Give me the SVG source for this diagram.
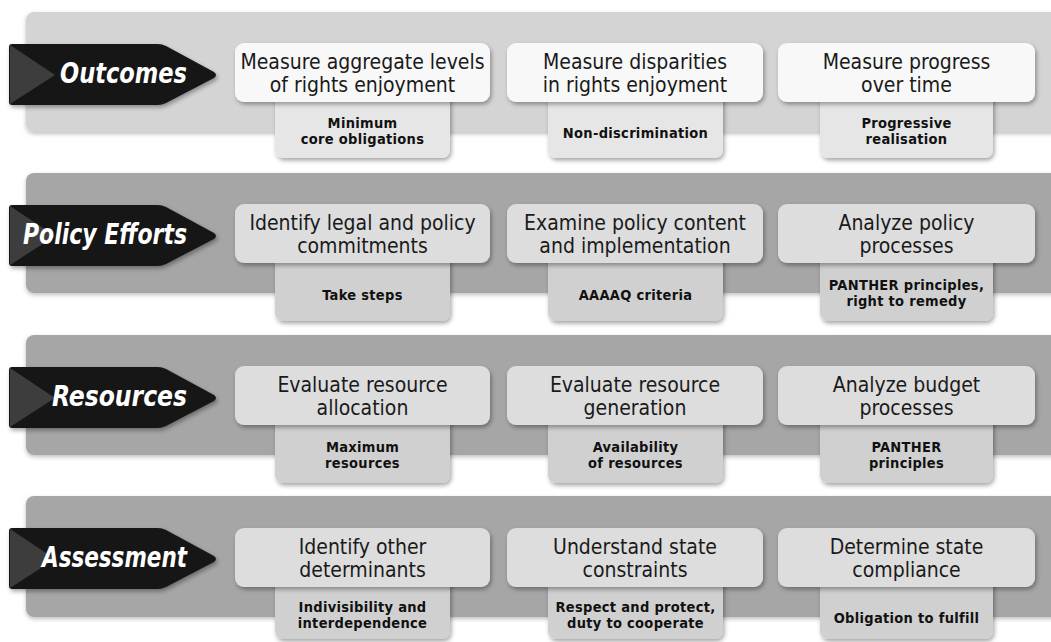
<svg xmlns="http://www.w3.org/2000/svg" width="1051" height="642" viewBox="0 0 1051 642">
<defs>
<style>
.band1{fill:#d4d4d4}
.band2{fill:#a6a6a6}
.main1{fill:#f8f8f8}
.main2{fill:#dddddd}
.sub1{fill:#e6e6e6}
.sub2{fill:#d0d0d0}
.arrow{fill:#161616}
.fold{fill:#3d3d3d}
.lbl{font-family:"DejaVu Sans Condensed","Liberation Sans",sans-serif;font-weight:bold;font-style:italic;font-size:28px;fill:#ffffff;text-anchor:end}
.mt{font-family:"DejaVu Sans Condensed","Liberation Sans",sans-serif;font-size:21px;fill:#1a1a1a;text-anchor:middle}
.st{font-family:"DejaVu Sans Condensed","Liberation Sans",sans-serif;font-weight:bold;font-size:14.5px;letter-spacing:0.3px;fill:#111111;text-anchor:middle}
</style>
<filter id="sh" x="-10%" y="-20%" width="120%" height="150%">
<feDropShadow dx="1.5" dy="2.5" stdDeviation="2" flood-color="#000" flood-opacity="0.35"/>
</filter>
<filter id="shb" x="-5%" y="-10%" width="110%" height="125%">
<feDropShadow dx="0" dy="2" stdDeviation="2" flood-color="#000" flood-opacity="0.25"/>
</filter>
<g id="arrowShape">
<path class="arrow" d="M12,32 H158 Q162,32 166,34 L214,60 Q218,63 214,66 L166,91 Q162,93 158,93 H12 Q9,93 9,90 V35 Q9,32 12,32 Z" filter="url(#sh)"/>
<path class="fold" d="M10,33 L55,63 L10,92 Z"/>
</g>
</defs>

<g id="connectors"></g>

<!-- Row 1: Outcomes -->
<g id="row-outcomes" transform="translate(0,12)">
<rect class="band1" x="26" y="0" width="1040" height="120" rx="8" filter="url(#shb)"/>
<g id="outcomes-label">
<use href="#arrowShape"/>
<text class="lbl" x="187" y="71" textLength="127" lengthAdjust="spacingAndGlyphs">Outcomes</text>
</g>
<g id="outcomes-c1">
<rect class="sub1" x="275" y="80" width="175" height="66" rx="8" filter="url(#sh)"/>
<rect class="main1" x="235" y="31" width="255" height="59" rx="9" filter="url(#sh)"/>
<text class="mt" x="362.5" y="57">Measure aggregate levels</text>
<text class="mt" x="362.5" y="80">of rights enjoyment</text>
<text class="st" x="362.5" y="115.5">Minimum</text>
<text class="st" x="362.5" y="131.5">core obligations</text>
</g>
<g id="outcomes-c2">
<rect class="sub1" x="548" y="80" width="175" height="66" rx="8" filter="url(#sh)"/>
<rect class="main1" x="507" y="31" width="256" height="59" rx="9" filter="url(#sh)"/>
<text class="mt" x="635" y="57">Measure disparities</text>
<text class="mt" x="635" y="80">in rights enjoyment</text>
<text class="st" x="635.5" y="126">Non-discrimination</text>
</g>
<g id="outcomes-c3">
<rect class="sub1" x="820" y="80" width="173" height="66" rx="8" filter="url(#sh)"/>
<rect class="main1" x="778" y="31" width="257" height="59" rx="9" filter="url(#sh)"/>
<text class="mt" x="906.5" y="57">Measure progress</text>
<text class="mt" x="906.5" y="80">over time</text>
<text class="st" x="906.5" y="115.5">Progressive</text>
<text class="st" x="906.5" y="131.5">realisation</text>
</g>
</g>

<!-- Row 2: Policy Efforts -->
<g id="row-policy" transform="translate(0,173)">
<rect class="band2" x="26" y="0" width="1040" height="120" rx="8" filter="url(#shb)"/>
<g id="policy-label">
<use href="#arrowShape"/>
<text class="lbl" x="187" y="71" textLength="164" lengthAdjust="spacingAndGlyphs">Policy Efforts</text>
</g>
<g id="policy-c1">
<rect class="sub2" x="275" y="80" width="175" height="68" rx="8" filter="url(#sh)"/>
<rect class="main2" x="235" y="31" width="255" height="59" rx="9" filter="url(#sh)"/>
<text class="mt" x="362.5" y="57">Identify legal and policy</text>
<text class="mt" x="362.5" y="80">commitments</text>
<text class="st" x="362.5" y="127">Take steps</text>
</g>
<g id="policy-c2">
<rect class="sub2" x="548" y="80" width="175" height="68" rx="8" filter="url(#sh)"/>
<rect class="main2" x="507" y="31" width="256" height="59" rx="9" filter="url(#sh)"/>
<text class="mt" x="635" y="57">Examine policy content</text>
<text class="mt" x="635" y="80">and implementation</text>
<text class="st" x="635.5" y="127">AAAAQ criteria</text>
</g>
<g id="policy-c3">
<rect class="sub2" x="820" y="80" width="173" height="68" rx="8" filter="url(#sh)"/>
<rect class="main2" x="778" y="31" width="257" height="59" rx="9" filter="url(#sh)"/>
<text class="mt" x="906.5" y="57">Analyze policy</text>
<text class="mt" x="906.5" y="80">processes</text>
<text class="st" x="906.5" y="116.5">PANTHER principles,</text>
<text class="st" x="906.5" y="132.5">right to remedy</text>
</g>
</g>

<!-- Row 3: Resources -->
<g id="row-resources" transform="translate(0,335)">
<rect class="band2" x="26" y="0" width="1040" height="120" rx="8" filter="url(#shb)"/>
<g id="resources-label">
<use href="#arrowShape"/>
<text class="lbl" x="187" y="71" textLength="135" lengthAdjust="spacingAndGlyphs">Resources</text>
</g>
<g id="resources-c1">
<rect class="sub2" x="275" y="80" width="175" height="68" rx="8" filter="url(#sh)"/>
<rect class="main2" x="235" y="31" width="255" height="59" rx="9" filter="url(#sh)"/>
<text class="mt" x="362.5" y="57">Evaluate resource</text>
<text class="mt" x="362.5" y="80">allocation</text>
<text class="st" x="362.5" y="116.5">Maximum</text>
<text class="st" x="362.5" y="132.5">resources</text>
</g>
<g id="resources-c2">
<rect class="sub2" x="548" y="80" width="175" height="68" rx="8" filter="url(#sh)"/>
<rect class="main2" x="507" y="31" width="256" height="59" rx="9" filter="url(#sh)"/>
<text class="mt" x="635" y="57">Evaluate resource</text>
<text class="mt" x="635" y="80">generation</text>
<text class="st" x="635.5" y="116.5">Availability</text>
<text class="st" x="635.5" y="132.5">of resources</text>
</g>
<g id="resources-c3">
<rect class="sub2" x="820" y="80" width="173" height="68" rx="8" filter="url(#sh)"/>
<rect class="main2" x="778" y="31" width="257" height="59" rx="9" filter="url(#sh)"/>
<text class="mt" x="906.5" y="57">Analyze budget</text>
<text class="mt" x="906.5" y="80">processes</text>
<text class="st" x="906.5" y="116.5">PANTHER</text>
<text class="st" x="906.5" y="132.5">principles</text>
</g>
</g>

<!-- Row 4: Assessment -->
<g id="row-assessment" transform="translate(0,496)">
<rect class="band2" x="26" y="0" width="1040" height="121" rx="8" filter="url(#shb)"/>
<g id="assessment-label">
<use href="#arrowShape"/>
<text class="lbl" x="187" y="71" textLength="145" lengthAdjust="spacingAndGlyphs">Assessment</text>
</g>
<g id="assessment-c1">
<rect class="sub2" x="275" y="80" width="175" height="63" rx="8" filter="url(#sh)"/>
<rect class="main2" x="235" y="32" width="255" height="59" rx="9" filter="url(#sh)"/>
<text class="mt" x="362.5" y="58">Identify other</text>
<text class="mt" x="362.5" y="81">determinants</text>
<text class="st" x="362.5" y="115.5">Indivisibility and</text>
<text class="st" x="362.5" y="131.5">interdependence</text>
</g>
<g id="assessment-c2">
<rect class="sub2" x="548" y="80" width="175" height="63" rx="8" filter="url(#sh)"/>
<rect class="main2" x="507" y="32" width="256" height="59" rx="9" filter="url(#sh)"/>
<text class="mt" x="635" y="58">Understand state</text>
<text class="mt" x="635" y="81">constraints</text>
<text class="st" x="635.5" y="115.5">Respect and protect,</text>
<text class="st" x="635.5" y="131.5">duty to cooperate</text>
</g>
<g id="assessment-c3">
<rect class="sub2" x="820" y="80" width="173" height="63" rx="8" filter="url(#sh)"/>
<rect class="main2" x="778" y="32" width="257" height="59" rx="9" filter="url(#sh)"/>
<text class="mt" x="906.5" y="58">Determine state</text>
<text class="mt" x="906.5" y="81">compliance</text>
<text class="st" x="906.5" y="127">Obligation to fulfill</text>
</g>
</g>
</svg>
